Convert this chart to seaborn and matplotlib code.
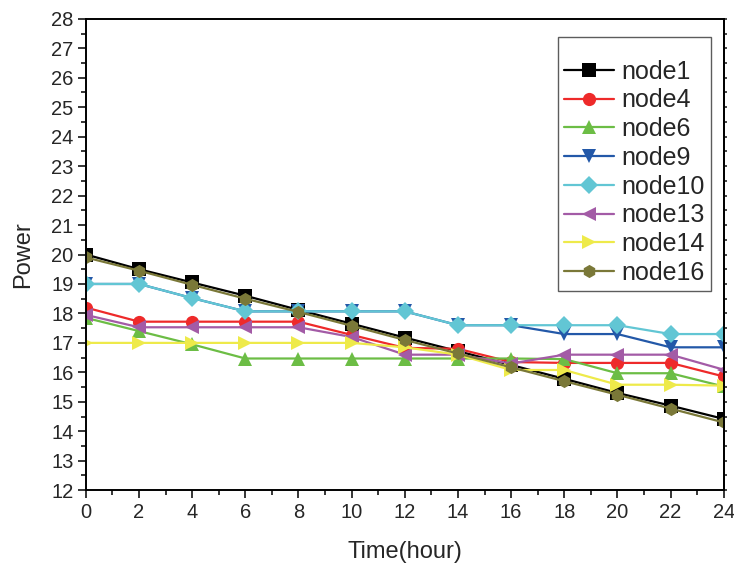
import numpy as np
import pandas as pd
import matplotlib
matplotlib.use('Agg')
import matplotlib.pyplot as plt
from matplotlib.ticker import MultipleLocator
import seaborn as sns

# values
hours = [0, 2, 4, 6, 8, 10, 12, 14, 16, 18, 20, 22, 24]
node1 = [20.0, 19.5, 19.05, 18.6, 18.12, 17.65, 17.18, 16.72, 16.25, 15.78, 15.3, 14.87, 14.42]
node4 = [18.2, 17.72, 17.72, 17.72, 17.72, 17.27, 16.83, 16.8, 16.35, 16.32, 16.32, 16.32, 15.86]
node6 = [17.85, 17.4, 16.95, 16.47, 16.47, 16.47, 16.47, 16.47, 16.47, 16.45, 15.97, 15.97, 15.52]
node9 = [19.0, 19.0, 18.52, 18.07, 18.07, 18.07, 18.07, 17.6, 17.6, 17.3, 17.3, 16.85, 16.85]
node10 = [19.0, 19.0, 18.52, 18.07, 18.07, 18.07, 18.07, 17.6, 17.6, 17.6, 17.6, 17.3, 17.3]
node13 = [17.95, 17.53, 17.53, 17.53, 17.53, 17.2, 16.6, 16.6, 16.3, 16.6, 16.6, 16.6, 16.09]
node14 = [17.0, 17.0, 17.0, 17.0, 17.0, 17.0, 16.85, 16.6, 16.08, 16.08, 15.58, 15.58, 15.55]
node16 = [19.9, 19.45, 18.97, 18.5, 18.05, 17.58, 17.1, 16.64, 16.17, 15.7, 15.24, 14.77, 14.3]

names = ['node1', 'node4', 'node6', 'node9', 'node10', 'node13', 'node14', 'node16']
series = [node1, node4, node6, node9, node10, node13, node14, node16]
colors = ['#000000', '#ee2a2a', '#6cbd45', '#2358a8', '#62c6d4', '#a35ba6', '#eeea4a', '#7a7838']
markers = ['s', 'o', '^', 'v', 'D', '<', '>', 'h']

rows = []
for n, s in zip(names, series):
    for h, v in zip(hours, s):
        rows.append({'hour': h, 'power': v, 'node': n})
df = pd.DataFrame(rows)

sns.set_style('white')
plt.rcParams['font.family'] = ['Liberation Sans', 'DejaVu Sans']

fig = plt.figure(figsize=(7.34, 5.70), dpi=100)
ax = fig.add_axes([0.117, 0.14, 0.869, 0.827])

sns.lineplot(data=df, x='hour', y='power', hue='node', style='node',
             hue_order=names, style_order=names,
             palette=dict(zip(names, colors)), markers=dict(zip(names, markers)),
             dashes=False, linewidth=1.6, markersize=9.5, markeredgewidth=0,
             ax=ax)

ax.set_xlim(0, 24)
ax.set_ylim(12, 28)
ax.xaxis.set_major_locator(MultipleLocator(2))
ax.xaxis.set_minor_locator(MultipleLocator(1))
ax.yaxis.set_major_locator(MultipleLocator(1))
ax.yaxis.set_minor_locator(MultipleLocator(0.5))
ax.tick_params(axis='both', which='major', direction='out', length=6, width=1.3,
               labelsize=14.5, bottom=True, left=True, pad=3)
ax.tick_params(axis='both', which='minor', direction='out', length=3.5, width=1.3,
               bottom=True, left=True)
for sp in ax.spines.values():
    sp.set_color('black')
    sp.set_linewidth(1.4)

# small ticks on the right spine
rax = ax.secondary_yaxis('right')
rax.yaxis.set_major_locator(MultipleLocator(0.5))
rax.tick_params(axis='y', direction='out', length=2.5, width=1.2, labelright=False)
rax.spines['right'].set_linewidth(1.4)

ax.set_xlabel('Time(hour)', fontsize=17, labelpad=14)
ax.set_ylabel('Power', fontsize=17, labelpad=12)

handles, labels = ax.get_legend_handles_labels()
# empty small title gives the extra room above the first row
leg = ax.legend(handles, labels, loc='upper right', bbox_to_anchor=(0.98, 0.962),
                fontsize=18, frameon=True, fancybox=False, edgecolor='#333333',
                handlelength=2.0, labelspacing=0.19, borderpad=0.25, handletextpad=0.3,
                borderaxespad=0, title=' ', title_fontsize=9)
leg.get_frame().set_linewidth(1.0)

fig.savefig('out.png', dpi=100)
